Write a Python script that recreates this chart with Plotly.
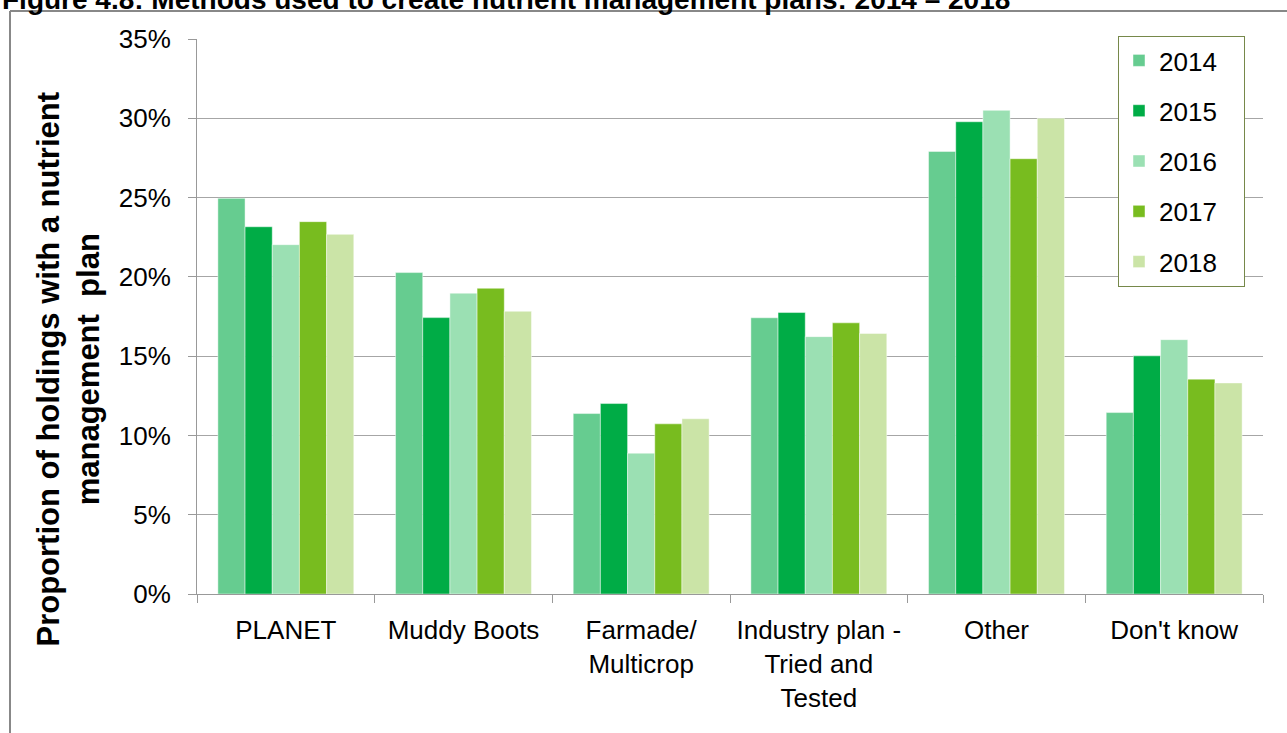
import plotly.graph_objects as go

categories = ["PLANET", "Muddy Boots", "Farmade/<br>Multicrop",
              "Industry plan -<br>Tried and<br>Tested", "Other", "Don't know"]
years = ["2014", "2015", "2016", "2017", "2018"]

v2014 = [24.95, 20.27, 11.38, 17.42, 27.91, 11.44]
v2015 = [23.16, 17.43, 12.01, 17.75, 29.78, 15.02]
v2016 = [22.03, 18.97, 8.88, 16.23, 30.50, 16.04]
v2017 = [23.48, 19.28, 10.73, 17.10, 27.45, 13.55]
v2018 = [22.68, 17.83, 11.05, 16.43, 30.01, 13.31]
series = [v2014, v2015, v2016, v2017, v2018]

colors = ["#66CC90", "#00AC46", "#9BE0B3", "#78BC1F", "#CBE4A7"]

W, H = 1287, 733
L, R, T, B = 197, 24, 39, 139
pw, ph = W - L - R, H - T - B

def px_x(x):
    return (x - L) / pw

def px_y(y):
    return (H - B - y) / ph

FONT = "Liberation Sans, Arial, sans-serif"
PAD = "\u00a0\u00a0\u00a0"

fig = go.Figure()
for yr, vals, c in zip(years, series, colors):
    fig.add_trace(go.Bar(
        x=categories, y=vals, name=yr + PAD, legendgroup=yr,
        marker=dict(color=c, line=dict(color="rgba(255,255,255,0.45)", width=1)),
    ))

fig.update_layout(
    width=W, height=H,
    margin=dict(l=L, r=R, t=T, b=B),
    paper_bgcolor="white", plot_bgcolor="white",
    barmode="group", bargap=0.235, bargroupgap=0,
    font=dict(family=FONT, size=26, color="black"),
    legend=dict(
        x=px_x(1118), y=px_y(36), xanchor="left", yanchor="top",
        bgcolor="white", bordercolor="#76884A", borderwidth=1,
        font=dict(size=26), tracegroupgap=13.5,
    ),
    xaxis=dict(
        showline=True, linecolor="#999999", linewidth=1,
        ticks="outside", ticklen=8, tickcolor="#999999", tickson="boundaries",
        showgrid=False, tickfont=dict(size=26), ticklabelstandoff=13,
    ),
    yaxis=dict(
        range=[0, 35], dtick=5, ticksuffix="%",
        showline=True, linecolor="#999999", linewidth=1,
        ticks="outside", ticklen=8, tickcolor="#999999",
        showgrid=True, gridcolor="#A6A6A6", gridwidth=1,
        zeroline=False, tickfont=dict(size=26), ticklabelstandoff=12,
    ),
)

fig.add_annotation(
    text="<b>Proportion of holdings with a nutrient<br>management  plan</b>",
    xref="paper", yref="paper", x=px_x(68.5), y=px_y(369),
    xanchor="center", yanchor="middle", textangle=-90, showarrow=False,
    font=dict(size=31, family=FONT, color="black"),
)

fig.add_annotation(
    text="<b>Figure 4.8: Methods used to create nutrient management plans: 2014 \u2013 2018</b>",
    xref="paper", yref="paper", x=px_x(0), y=px_y(-1),
    xanchor="left", yanchor="middle", showarrow=False,
    font=dict(size=28, family=FONT, color="black"),
)

fig.add_shape(type="line", xref="paper", yref="paper",
              x0=px_x(10), x1=px_x(10), y0=px_y(11), y1=px_y(740),
              line=dict(color="#888888", width=2))
fig.add_shape(type="line", xref="paper", yref="paper",
              x0=px_x(10), x1=px_x(1295), y0=px_y(11), y1=px_y(11),
              line=dict(color="#888888", width=2))

fig.write_html("out.html")
